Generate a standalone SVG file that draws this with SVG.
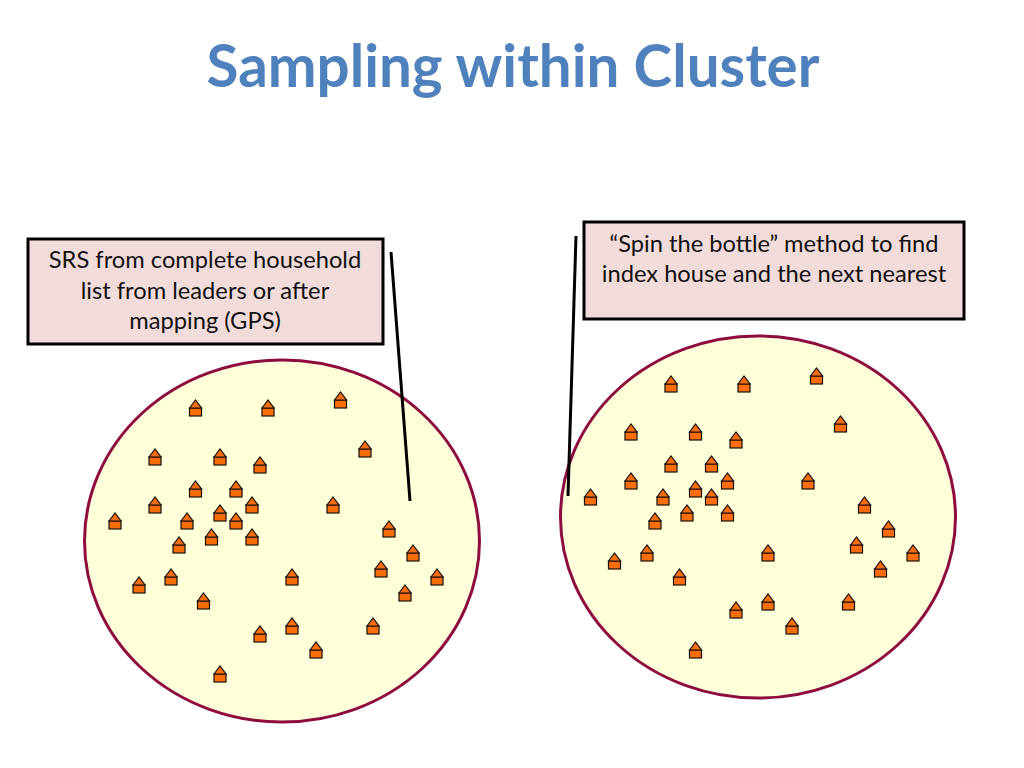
<svg xmlns="http://www.w3.org/2000/svg" xmlns:xlink="http://www.w3.org/1999/xlink" width="1024" height="768" viewBox="0 0 1024 768">
<style>
text{font-family:"Lato","Open Sans","Liberation Sans",sans-serif}
.title{font-size:58.3px;font-weight:700;fill:#4f81bd;text-anchor:middle}
.lab{font-size:23.7px;fill:#111;text-anchor:middle}
.box{fill:#f2dcdb;stroke:#000;stroke-width:3}
.cl{fill:#ffffd9;stroke:#8e0c3f;stroke-width:3}
.ln{stroke:#000;stroke-width:3;fill:none}
.h{fill:#ff6d0a;stroke:#111;stroke-width:1.2}
</style>
<defs>
<g id="house"><rect class="h" x="-6" y="0" width="12" height="8"/><path class="h" d="M-6 0L0-8L6 0Z"/></g>
</defs>
<rect width="1024" height="768" fill="#fff"/>
<text class="title" x="513" y="86.500">Sampling within Cluster</text>
<g id="cluster-left"><ellipse class="cl" cx="282" cy="541" rx="197.500" ry="181"/></g>
<g id="cluster-right"><ellipse class="cl" cx="758" cy="517" rx="197.500" ry="181"/></g>
<g id="box-left"><rect class="box" x="28" y="239" width="355" height="105"/>
<text class="lab" x="205" y="268">SRS from complete household</text>
<text class="lab" x="205" y="299">list from leaders or after</text>
<text class="lab" x="205" y="329">mapping (GPS)</text></g>
<g id="box-right"><rect class="box" x="584" y="222" width="380" height="97"/>
<text class="lab" x="774" y="252">“Spin the bottle” method to find</text>
<text class="lab" x="774" y="282">index house and the next nearest</text></g>
<g id="connectors"><path class="ln" d="M391 252L410 501"/><path class="ln" d="M576 236L568 496"/></g>
<g id="houses-left">
<use href="#house" x="195.500" y="408"/><use href="#house" x="268" y="408"/><use href="#house" x="340.500" y="400"/><use href="#house" x="155" y="457"/><use href="#house" x="220" y="457"/><use href="#house" x="260" y="465"/><use href="#house" x="365" y="449"/><use href="#house" x="195.500" y="489"/><use href="#house" x="236" y="489"/><use href="#house" x="155" y="505"/><use href="#house" x="252" y="505"/><use href="#house" x="333" y="505"/><use href="#house" x="115" y="521"/><use href="#house" x="187" y="521"/><use href="#house" x="220" y="513"/><use href="#house" x="236" y="521"/><use href="#house" x="252" y="537"/><use href="#house" x="211.500" y="537"/><use href="#house" x="179" y="545"/><use href="#house" x="389" y="529"/><use href="#house" x="413" y="553"/><use href="#house" x="381" y="569"/><use href="#house" x="437" y="577"/><use href="#house" x="405" y="593"/><use href="#house" x="292" y="577"/><use href="#house" x="171" y="577"/><use href="#house" x="139" y="585"/><use href="#house" x="203.500" y="601"/><use href="#house" x="260" y="634"/><use href="#house" x="292" y="626"/><use href="#house" x="373" y="626"/><use href="#house" x="316" y="650"/><use href="#house" x="220" y="674"/>
</g>
<g id="houses-right">
<use href="#house" x="671" y="384"/><use href="#house" x="744" y="384"/><use href="#house" x="816.500" y="376"/><use href="#house" x="631" y="432"/><use href="#house" x="695.500" y="432"/><use href="#house" x="736" y="440"/><use href="#house" x="840.500" y="424"/><use href="#house" x="671" y="464"/><use href="#house" x="711.500" y="464"/><use href="#house" x="727.500" y="481"/><use href="#house" x="631" y="481"/><use href="#house" x="808" y="481"/><use href="#house" x="695.500" y="489"/><use href="#house" x="711.500" y="497"/><use href="#house" x="663" y="497"/><use href="#house" x="590.500" y="497"/><use href="#house" x="727.500" y="513"/><use href="#house" x="687" y="513"/><use href="#house" x="655" y="521"/><use href="#house" x="864.500" y="505"/><use href="#house" x="888.500" y="529"/><use href="#house" x="856.500" y="545"/><use href="#house" x="913" y="553"/><use href="#house" x="880.500" y="569"/><use href="#house" x="768" y="553"/><use href="#house" x="647" y="553"/><use href="#house" x="614.500" y="561"/><use href="#house" x="679.500" y="577"/><use href="#house" x="736" y="610"/><use href="#house" x="768" y="602"/><use href="#house" x="848.500" y="602"/><use href="#house" x="792" y="626"/><use href="#house" x="695.500" y="650"/>
</g>
</svg>
